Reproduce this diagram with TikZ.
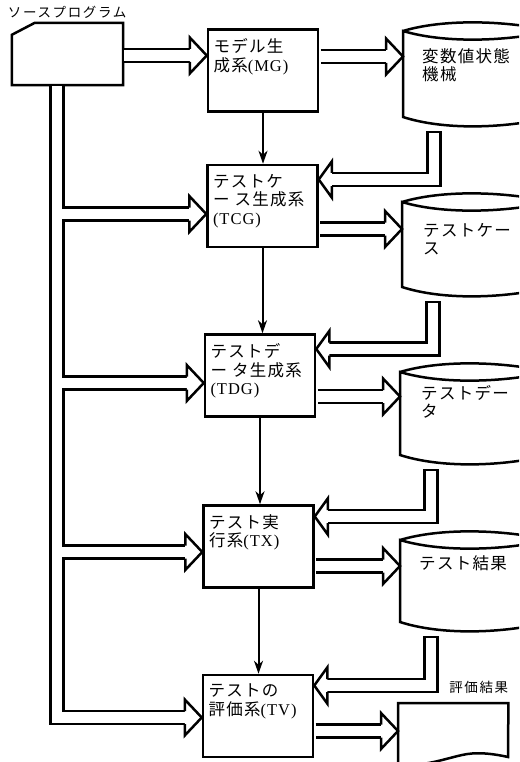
\documentclass[tikz,border=0pt]{standalone}
\usepackage{fontspec}
\setmainfont{Liberation Serif}[LetterSpace=6]
\newfontfamily\jp{Noto Sans CJK JP}[LetterSpace=8]
\newfontfamily\jptag{Noto Sans CJK JP}[LetterSpace=12]
\usetikzlibrary{positioning,arrows.meta}

\newcommand{\rmtext}[1]{{\rmfamily #1}}
\newcommand{\boxtext}[1]{\parbox[t][64pt][t]{99pt}{\raggedright #1}}

\begin{document}
\begin{tikzpicture}[x=1pt, y=-1pt,
    outline/.style={line width=2.5pt, line join=miter},
    block/.style={draw, outline, inner xsep=5.5pt, inner ysep=7pt,
      minimum width=110pt, minimum height=82pt, font=\jp\fontsize{16.5}{18.5}\selectfont},
    drumtext/.style={inner sep=0pt, align=left, font=\jp\fontsize{16.5}{18.5}\selectfont},
    tag/.style={inner sep=0pt, font=\jptag\fontsize{13.5}{15}\selectfont},
    pipe/.style={outline, double, double distance=10.5pt, shorten >=17pt},
    backpipe/.style={pipe, line cap=rect, shorten >=13pt},
    flow/.style={line width=2pt, -{Stealth[length=13pt, width=9pt, inset=4pt]}},
    headr/.pic={
      \fill[white] (-17,-18) -- (0,0) -- (-17,18) -- cycle;
      \draw[outline] (-17,-6.5) -- (-17,-18) -- (0,0) -- (-17,18) -- (-17,6.5);},
    headl/.pic={
      \fill[white] (13,-18) -- (0,0) -- (13,18) -- cycle;
      \draw[outline] (13,-6.5) -- (13,-18) -- (0,0) -- (13,18) -- (13,6.5);}]

  \useasboundingbox (0,0) rectangle (519,762);
  \clip (0,0) rectangle (519,762);

  % Source program
  \node[minimum width=111pt, minimum height=62pt, inner sep=0pt] (src) at (67.5,54) {};
  \draw[outline] ([yshift=-12pt]src.north west) -- ([xshift=23pt]src.north west)
    -- (src.north east) -- (src.south east) -- (src.south west) -- cycle;
  \node[tag, anchor=south west] (srcname) at ([xshift=-4pt, yshift=4pt]src.north west) {ソースプログラム};

  % Processing blocks
  \node[block] (mg) at (263,70.5) {\boxtext{モデル生\\成系\rmtext{(MG)}}};
  \node[block] (tcg) at (262.5,206) {\boxtext{テストケ\\ー ス生成系\\\rmtext{(TCG)}}};
  \node[block] (tdg) at (260,375.5) {\boxtext{テストデ\\ー タ生成系\\\rmtext{(TDG)}}};
  \node[block] (tx) at (258.5,546.5) {\boxtext{テスト実\\行系\rmtext{(TX)}}};
  \node[block] (tv) at (258,716) {\boxtext{テストの\\評価系\rmtext{(TV)}}};

  % Storage drums
  \foreach \l/\t/\b/\n in {403/31/117/d1, 402/202/287/d2, 400/372/455/d3, 400/540/622/d4}{
    \coordinate (\n) at (\l,\t);
    \coordinate (\n-fb) at (\l+31,\b+21.5);
    \draw[outline] (\l,\t) .. controls +(40,-12) and +(-50,-11) .. (\l+150,\t)
      .. controls +(-50,11) and +(40,12) .. (\l,\t) -- (\l,\b)
      .. controls +(40,13) and +(-50,12) .. (\l+150,\b) -- (\l+150,\t);
  }
  \node[drumtext, below right=17pt and 19pt of d1] (vsm) {変数値状態\\機械};
  \node[drumtext, below right=21pt and 21pt of d2] (tcase) {テストケー\\ス};
  \node[drumtext, below right=13pt and 21pt of d3] (tdata) {テストデー\\タ};
  \node[drumtext, below right=15pt and 19pt of d4] (tres) {テスト結果};

  % Result document
  \node[minimum width=110pt, minimum height=60pt, inner sep=0pt, anchor=north west] (doc) at (398,703) {};
  \draw[outline] (398,768) -- (doc.north west) -- (doc.north east) -- (508,757)
    .. controls (490,753) and (475,752) .. (462,755)
    .. controls (440,760) and (420,768) .. (398,763);
  \node[tag, anchor=south east] (resname) at ([yshift=9pt]doc.north east) {評価結果};

  % Pipe ports
  \coordinate (trunk) at ([xshift=45pt]src.south west);
  \coordinate (mg-in) at ([yshift=15pt]mg.west);
  \coordinate (tcg-br) at ([yshift=-8pt]tcg.west);
  \coordinate (tdg-br) at ([yshift=-7.5pt]tdg.west);
  \coordinate (tx-br) at ([yshift=-5.5pt]tx.west);
  \coordinate (tv-br) at ([yshift=-1.5pt]tv.west);
  \coordinate (mg-out) at ([yshift=14pt]mg.east);
  \coordinate (tcg-out) at ([yshift=-23pt]tcg.east);
  \coordinate (tdg-out) at ([yshift=-21pt]tdg.east);
  \coordinate (tx-out) at ([yshift=-19.5pt]tx.east);
  \coordinate (tv-out) at ([yshift=-15pt]tv.east);
  \coordinate (tcg-back) at ([yshift=26.5pt]tcg.east);
  \coordinate (tdg-back) at ([yshift=26.5pt]tdg.east);
  \coordinate (tx-back) at ([yshift=30pt]tx.east);
  \coordinate (tv-back) at ([yshift=30.5pt]tv.east);

  % Source program feeds
  \draw[pipe, shorten <=1.25pt] (src.east |- mg-in) -- (mg-in);
  \pic at (mg-in) {headr};
  \draw[pipe, shorten <=1.25pt] (trunk) |- (tv-br);
  \pic at (tv-br) {headr};
  \foreach \b in {tcg, tdg, tx}{
    \draw[pipe] ([xshift=5.25pt]trunk |- \b-br) -- (\b-br);
    \pic at (\b-br) {headr};
  }

  % Outputs
  \foreach \b/\d in {mg/d1, tcg/d2, tdg/d3, tx/d4}{
    \draw[pipe, shorten <=1.25pt] (\b-out) -- (\b-out -| \d);
    \pic at (\b-out -| \d) {headr};
  }
  \draw[pipe, shorten <=1.25pt] (tv-out) -- (tv-out -| doc.west);
  \pic at (tv-out -| doc.west) {headr};

  % Feedback from drums
  \foreach \d/\b in {d1/tcg, d2/tdg, d3/tx, d4/tv}{
    \draw[backpipe] (\d-fb) |- (\b-back);
    \pic at (\b-back) {headl};
  }

  % Control flow
  \foreach \a/\b in {mg/tcg, tcg/tdg, tdg/tx, tx/tv}
    \draw[flow] (\a.south) -- (\a.south |- \b.north);
\end{tikzpicture}
\end{document}
